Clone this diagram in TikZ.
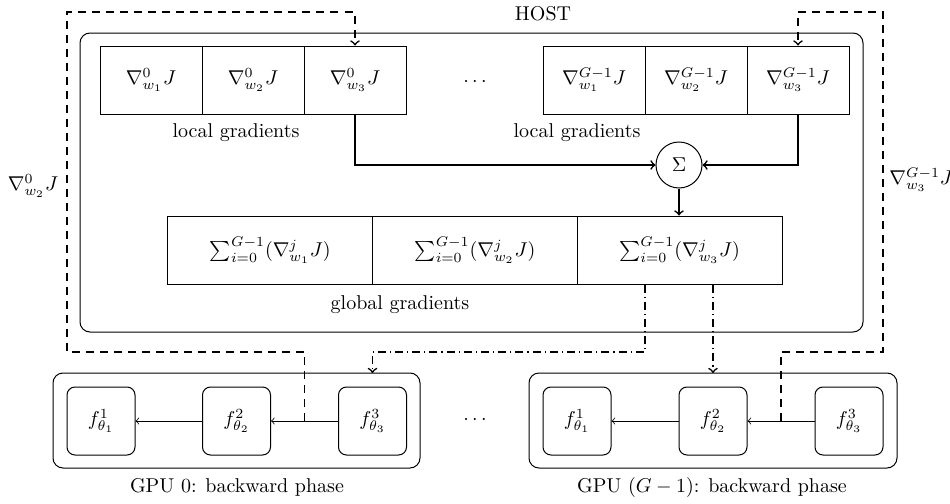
\documentclass[tikz,border=0pt]{standalone}
\usetikzlibrary{calc}
\begin{document}
\begin{tikzpicture}[x=0.5pt,y=-0.5pt,
 box/.style={draw, line width=0.5pt, minimum width=51pt, minimum height=34pt, inner sep=0pt},
 gbox/.style={box, minimum width=102.33pt},
 fbox/.style={draw, rounded corners=4pt, line width=0.5pt, minimum width=34pt, minimum height=34pt, inner sep=0pt},
 container/.style={draw, rounded corners=5pt, line width=0.5pt},
 thickarr/.style={->, line width=0.8pt},
 dsh/.style={->, line width=0.8pt, dash pattern=on 4pt off 3pt},
 dshdot/.style={->, line width=0.8pt, dash pattern=on 4pt off 2pt on 0.6pt off 2pt},
 thinarr/.style={->, line width=0.4pt}]
\useasboundingbox (0,0) rectangle (950,504);
% host
\draw[container] (80,33) rectangle (863,332);
\node (hostlbl) at (543,14) {HOST};
% local gradients
\node[box] (a1) at (151,80) {$\nabla^0_{w_1}J$};
\node[box] (a2) at (253,80) {$\nabla^0_{w_2}J$};
\node[box] (a3) at (355,80) {$\nabla^0_{w_3}J$};
\node[box] (b1) at (594,80) {$\nabla^{G-1}_{w_1}J$};
\node[box] (b2) at (696,80) {$\nabla^{G-1}_{w_2}J$};
\node[box] (b3) at (798,80) {$\nabla^{G-1}_{w_3}J$};
\node (lg0) at (236,133) {local gradients};
\node (lg1) at (577,133) {local gradients};
\node (dots1) at (475,82) {$\cdots$};
% sum
\node[draw, circle, minimum size=23pt, inner sep=0pt, line width=0.5pt] (sig) at (679,165) {$\Sigma$};
% global gradients
\node[gbox] (g1) at (270.3,250) {$\sum_{i=0}^{G-1}(\nabla^j_{w_1}J)$};
\node[gbox] (g2) at (475,250) {$\sum_{i=0}^{G-1}(\nabla^j_{w_2}J)$};
\node[gbox] (g3) at (679.7,250) {$\sum_{i=0}^{G-1}(\nabla^j_{w_3}J)$};
\node (gg) at (400,305) {global gradients};
\draw[thickarr] (a3.south) |- (sig.west);
\draw[thickarr] (b3.south) |- (sig.east);
\draw[thickarr] (sig.south) -- (sig.south |- g3.north);
% GPU 0
\draw[container] (53,373) rectangle (420,468);
\coordinate (gpu0top) at (236.5,373);
\node[fbox] (p1) at (101,421) {$f^1_{\theta_1}$};
\node[fbox] (p2) at (236.5,421) {$f^2_{\theta_2}$};
\node[fbox] (p3) at (372.5,421) {$f^3_{\theta_3}$};
\node (gl0) at (237,487) {GPU 0: backward phase};
% GPU G-1
\draw[container] (529,373) rectangle (897,468);
\coordinate (gpuGtop) at (713,373);
\node[fbox] (q1) at (577,421) {$f^1_{\theta_1}$};
\node[fbox] (q2) at (713,421) {$f^2_{\theta_2}$};
\node[fbox] (q3) at (849,421) {$f^3_{\theta_3}$};
\node (glG) at (712,487) {GPU $(G-1)$: backward phase};
\node (dots2) at (475,420) {$\cdots$};
\draw[thinarr] (p3) -- (p2);
\draw[thinarr] (p2) -- (p1);
\draw[thinarr] (q3) -- (q2);
\draw[thinarr] (q2) -- (q1);
% dashed feedback
\coordinate (m0) at ($(p2.east)!0.5!(p3.west)$);
\coordinate (mG) at ($(q2.east)!0.5!(q3.west)$);
\coordinate (L1) at (67,352);
\coordinate (L2) at (67,12);
\coordinate (R1) at (883,352);
\coordinate (R2) at (883,12);
\draw[dsh] (m0) |- (L1) -- (L2) -| (a3.north);
\draw[dsh] (mG) |- (R1) -- (R2) -| (b3.north);
\node (lbl0) at (33,186) {$\nabla^0_{w_2}J$};
\node[anchor=west, inner sep=0pt] (lblG) at (889,180) {$\nabla^{G-1}_{w_3}J$};
% dash-dot distribution
\coordinate (c1) at (645,352);
\draw[dshdot] (c1 |- g3.south) -- (c1) -| (p3 |- gpu0top);
\draw[dshdot] (g3.south -| gpuGtop) -- (gpuGtop);
\end{tikzpicture}
\end{document}
